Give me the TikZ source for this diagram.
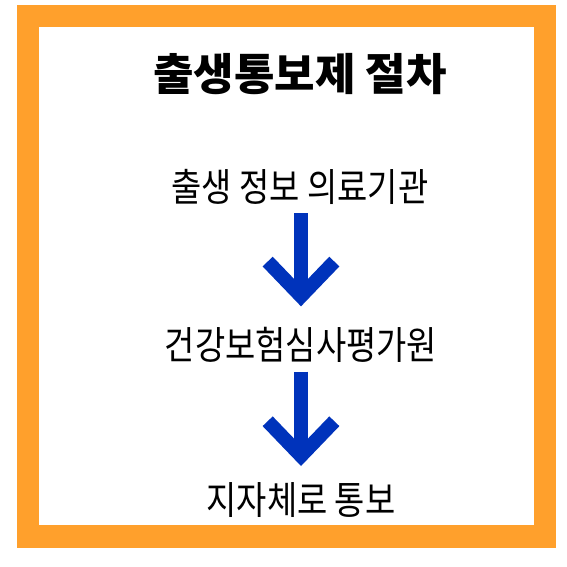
\documentclass[tikz,border=0pt]{standalone}
\usepackage{fontspec}
\usepackage{tikz}
\usetikzlibrary{positioning,arrows.meta}
\newfontfamily\krfont{Noto Sans CJK KR}
\newfontfamily\krbody[FakeStretch=0.85]{Noto Sans CJK KR}
\definecolor{frameorange}{RGB}{255,160,44}
\definecolor{arrowblue}{RGB}{0,51,187}
\tikzset{
  stage/.style={inner sep=0pt, font=\krbody\fontsize{29pt}{32pt}\selectfont},
  flow/.style={arrowblue, line width=10.5pt, -{Straight Barb[length=26pt, width=50pt]}}
}

\begin{document}
\begin{tikzpicture}[x=0.75pt, y=-0.75pt] % 1 unit = 1 px
  \useasboundingbox (0,0) rectangle (567,567); % page
  \fill[white] (0,0) rectangle (567,567);
  \fill[frameorange] (17,5) rectangle (556,548); % frame
  \fill[white] (39,27) rectangle (534,525);

  \node[inner sep=0pt, font=\krfont\bfseries\fontsize{33pt}{36pt}\selectfont] (title) at (300,74) {출생통보제 절차}; % title
  \node[stage] (hospital) at (300,187) {출생 정보 의료기관};
  \node[stage] (hira) at (301,345) {건강보험심사평가원};
  \node[stage] (local) at (301,500) {지자체로 통보};

  \draw[flow, shorten <=19.5pt, shorten >=29pt] (hira.center |- hospital.center) -- (hira.center); % arrows
  \draw[flow, shorten <=20pt, shorten >=25.5pt] (hira.center) -- (hira.center |- local.center);
\end{tikzpicture}
\end{document}
